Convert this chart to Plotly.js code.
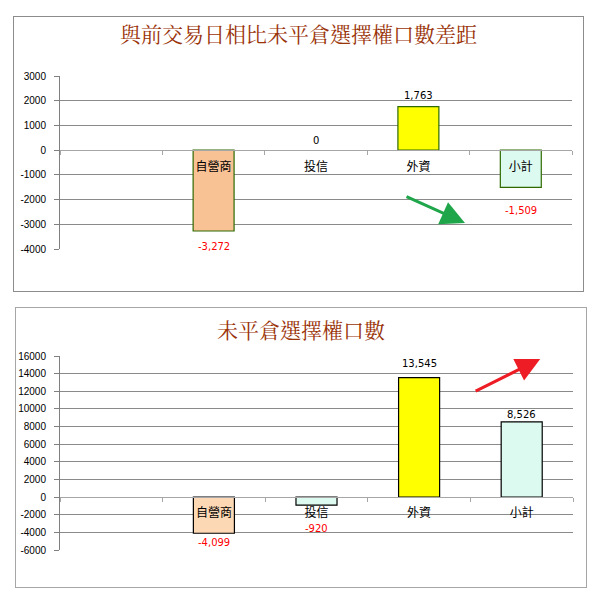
<!DOCTYPE html>
<html>
<head>
<meta charset="utf-8">
<script src="https://cdn.plot.ly/plotly-3.0.1.min.js"></script>
<style>
  html, body { margin: 0; padding: 0; background: #fff; width: 599px; height: 600px; overflow: hidden; }
  .box { position: absolute; border: 1px solid #8c8c8c; box-sizing: border-box; background: #fff; }
  #c1 { left: 13px; top: 16px; width: 571px; height: 276px; }
  #c2 { left: 15px; top: 307px; width: 572px; height: 281px; border-color: #a6a6a6; }
</style>
</head>
<body>
<div id="c1" class="box"></div>
<div id="c2" class="box"></div>
<script>
// ---- data ----
const categories = [' ', '自營商', '投信', '外資', '小計'];
const diffValues = [null, -3272, 0, 1763, -1509];
const oiValues = [null, -4099, -920, 13545, 8526];
const title1 = '與前交易日相比未平倉選擇權口數差距';
const title2 = '未平倉選擇權口數';
const range1 = [-4000, 3000];
const range2 = [-6000, 16000];
const dtick1 = 1000;
const dtick2 = 2000;

// ---- styles ----
const fill1 = ['#ffffff', '#F9C295', '#DCFAF0', '#FFFF00', '#DCFAF0'];
const fill2 = ['#ffffff', '#FCD9B4', '#DCFAF0', '#FFFF00', '#DCFAF0'];
const line1 = '#2f6a00';
const line2 = '#000000';
// extra pixel offset of each value label (style only)
const labelOffset1 = [0, 8, 2, 4, 16];
const labelOffset2 = [0, 2, 16, 7, 0];

function fmt(v) { return v.toLocaleString('en-US'); }

function tickList(range, dtick) {
  const vals = [];
  for (let v = range[0]; v <= range[1]; v += dtick) vals.push(v);
  return vals;
}

function makeChart(id, vals, fills, lineColor, title, range, dtick, margin, titleY, offsets, arrow, w, h) {
  const trace = {
    type: 'bar',
    x: categories,
    y: vals,
    width: 0.4,
    marker: { color: fills, line: { color: lineColor, width: vals.map(v => v === 0 ? 0 : 1.2) } },
    hoverinfo: 'none'
  };
  const labels = [];
  vals.forEach((v, i) => {
    if (v === null) return;
    const neg = v < 0;
    labels.push({
      xref: 'x', yref: 'y', x: categories[i], y: v,
      text: fmt(v), showarrow: false,
      yanchor: neg ? 'top' : 'bottom',
      yshift: neg ? -offsets[i] : offsets[i],
      font: { family: 'DejaVu Sans, Verdana', size: 10, color: neg ? '#ff0000' : '#000000' }
    });
  });
  const zeroPos = (0 - range[0]) / (range[1] - range[0]);
  const tv = tickList(range, dtick);
  const layout = {
    width: w, height: h,
    margin: margin,
    paper_bgcolor: '#fff',
    plot_bgcolor: '#fff',
    showlegend: false,
    title: {
      text: title,
      font: { family: 'Noto Serif CJK TC, Noto Sans CJK TC, serif', size: 21, color: '#9a3308' },
      x: 0.5, xanchor: 'center', xref: 'container',
      y: titleY, yanchor: 'middle', yref: 'container'
    },
    xaxis: {
      type: 'category',
      categoryorder: 'array',
      categoryarray: categories,
      range: [-0.5, categories.length - 0.5],
      anchor: 'free',
      position: zeroPos,
      showline: true,
      linecolor: '#a6a6a6',
      linewidth: 1,
      ticks: 'outside',
      tickson: 'boundaries',
      ticklen: 4,
      tickcolor: '#a6a6a6',
      showgrid: false,
      zeroline: false,
      tickfont: { family: 'Noto Sans CJK TC', size: 12, color: '#000' },
      ticklabelstandoff: 5,
      fixedrange: true,
      layer: 'above traces'
    },
    yaxis: {
      range: range,
      tickmode: 'array',
      tickvals: tv,
      ticktext: tv.map(v => String(v)),
      showline: true,
      linecolor: '#808080',
      linewidth: 1,
      ticks: 'outside',
      ticklen: 5,
      tickcolor: '#808080',
      showgrid: true,
      gridcolor: '#8a8a8a',
      gridwidth: 1,
      zeroline: false,
      tickfont: { family: 'Liberation Sans, Arial', size: 10, color: '#000' },
      ticklabelstandoff: 6,
      fixedrange: true,
      layer: 'below traces'
    },
    annotations: labels.concat([arrow])
  };
  Plotly.newPlot(id, [trace], layout, { staticPlot: true, displayModeBar: false });
}

makeChart('c1', diffValues, fill1, line1, title1, range1, dtick1,
  { l: 46, r: 11, t: 59, b: 42 }, 0.935, labelOffset1,
  { xref: 'paper', yref: 'paper', x: 0.791, y: 0.15, ax: -60, ay: -27,
    text: '', showarrow: true, arrowhead: 2, arrowsize: 1.6, arrowwidth: 3, arrowcolor: '#1fa64a' },
  569, 274);

makeChart('c2', oiValues, fill2, line2, title2, range2, dtick2,
  { l: 44, r: 13, t: 48, b: 37 }, 0.92, labelOffset2,
  { xref: 'paper', yref: 'paper', x: 0.936, y: 0.985, ax: -66, ay: 33,
    text: '', showarrow: true, arrowhead: 2, arrowsize: 1.6, arrowwidth: 3, arrowcolor: '#ee1c25' },
  570, 279);
</script>
</body>
</html>
